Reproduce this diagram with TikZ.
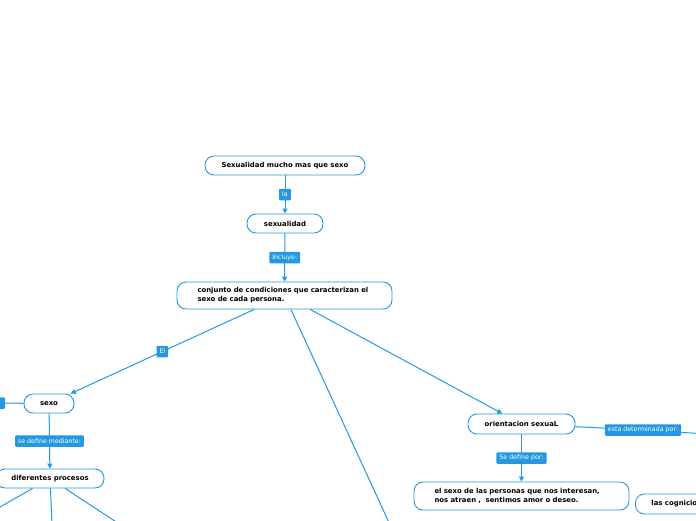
\documentclass[tikz,border=0pt]{standalone}
\usepackage{fontspec}
\setmainfont{DejaVu Sans}
\usetikzlibrary{arrows.meta}
\definecolor{mmblue}{RGB}{36,152,226}
\begin{document}
\begin{tikzpicture}[x=1pt,y=-1pt,
  topic/.style={draw=mmblue, line width=0.9pt, fill=white, rounded corners=9pt, inner sep=0pt,
    font=\fontsize{6.9}{9}\selectfont\bfseries, text=black},
  wide/.style={topic, align=left, inner xsep=20.5pt, text width=174pt},
  lbl/.style={fill=mmblue, text=white, rounded corners=1pt, inner xsep=3pt, inner ysep=0pt,
    minimum height=11.5pt, font=\fontsize{6.3}{7}\selectfont},
  conn/.style={draw=mmblue, line width=1pt},
  arr/.style={conn, -{Triangle[width=5pt,length=5pt]}}]
\clip (0,0) rectangle (696,520);
\fill[white] (0,0) rectangle (696,520);
% topics
\node[topic, minimum width=160pt, minimum height=19pt] (title) at (285,165.5) {Sexualidad mucho mas que sexo};
\node[topic, minimum width=76pt, minimum height=19pt] (sexualidad) at (285,223.5) {sexualidad};
\node[wide, minimum height=27pt] (conj) at (284.5,295.5) {conjunto de condiciones que caracterizan el\\sexo de cada persona.};
\node[topic, minimum width=50pt, minimum height=19pt] (sexo) at (49,403.5) {sexo};
\node[topic, minimum width=108pt, minimum height=19pt] (proc) at (50,478.5) {diferentes procesos};
\node[topic, minimum width=107pt, minimum height=20pt] (orient) at (521.5,424) {orientacion sexuaL};
\node[wide, minimum height=28pt] (def) at (521.5,496) {el sexo de las personas que nos interesan,\\nos atraen ,\ \ sentimos amor o deseo.};
\node[topic, anchor=west, minimum height=20pt, inner xsep=16pt] (cogn) at (635,504) {las cogniciones};
% off-canvas ends
\coordinate (c1) at (397,540);
\coordinate (p1) at (-20,518.4);
\coordinate (p2) at (52.5,535);
\coordinate (p3) at (130,531);
\coordinate (cr) at (740,436);
\node[lbl, minimum width=25pt] (lx) at (-7.5,403) {};
% connectors
\draw[arr] (title) -- node[lbl]{la} (sexualidad);
\draw[arr] (sexualidad) -- node[lbl]{Incluye:} (conj);
\draw[arr] (conj) -- node[lbl, pos=0.5]{El} (sexo);
\draw[conn] (conj) -- (c1);
\draw[arr] (conj) -- (orient);
\draw[conn] (lx) -- (sexo);
\draw[arr] (sexo) -- node[lbl]{se define mediante:} (proc);
\draw[conn] (proc) -- (p1);
\draw[conn] (proc) -- (p2);
\draw[conn] (proc) -- (p3);
\draw[arr] (orient) -- node[lbl]{Se define por:} (def);
\node[lbl] (detlbl) at (643,430) {esta determinada por:};
\draw[conn] (orient) -- (detlbl);
\draw[conn] (detlbl) -- (cr);
\end{tikzpicture}
\end{document}
